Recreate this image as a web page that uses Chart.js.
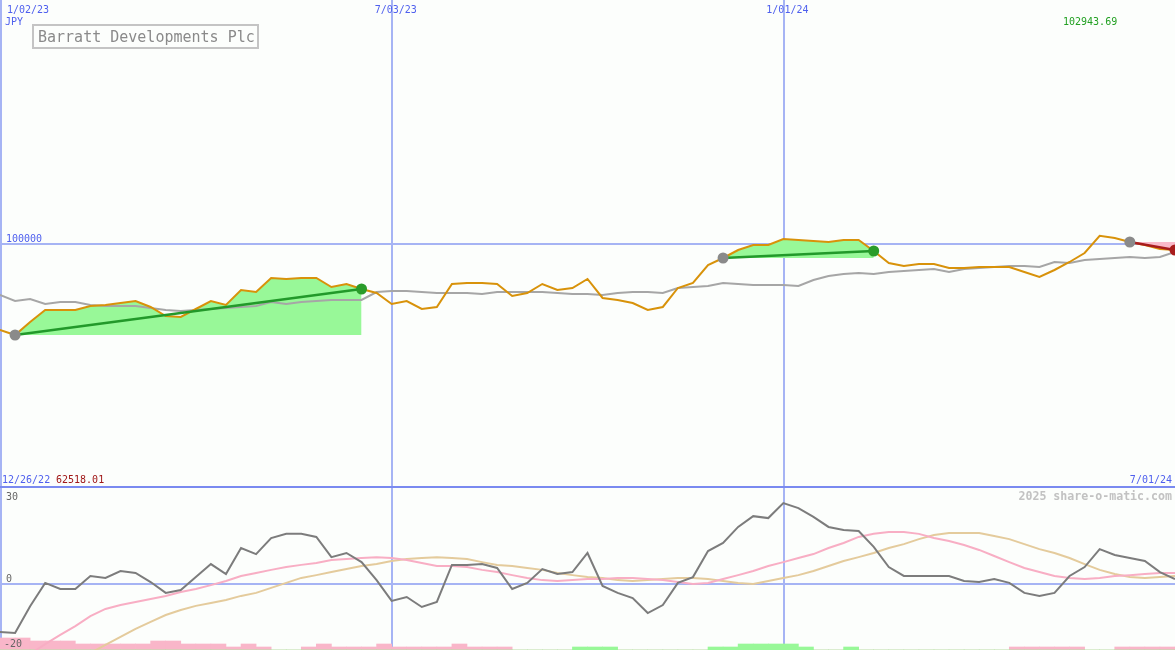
<!DOCTYPE html>
<html>
<head>
<meta charset="utf-8">
<script src="https://cdn.jsdelivr.net/npm/chart.js@4.4.1/dist/chart.umd.min.js"></script>
<style>
    html, body { margin: 0; padding: 0; background: #fcfefc; }
    #wrap { position: relative; width: 1175px; height: 650px; overflow: hidden; }
    #top { position: absolute; left: 0; top: 0; }
    #bot { position: absolute; left: 0; top: 486px; }
</style>
</head>
<body>
<div id="wrap">
    <canvas id="top" width="1175" height="486"></canvas>
    <canvas id="bot" width="1175" height="164"></canvas>
</div>
<script>
// weekly closes, 12/26/22 .. 7/01/24
const weeks = ['12/26/22',
    '1/02/23', '1/09/23', '1/16/23', '1/23/23', '1/30/23', '2/06/23', '2/13/23', '2/20/23', '2/27/23',
    '3/06/23', '3/13/23', '3/20/23', '3/27/23', '4/03/23', '4/10/23', '4/17/23', '4/24/23', '5/01/23',
    '5/08/23', '5/15/23', '5/22/23', '5/29/23', '6/05/23', '6/12/23', '6/19/23', '6/26/23', '7/03/23',
    '7/10/23', '7/17/23', '7/24/23', '7/31/23', '8/07/23', '8/14/23', '8/21/23', '8/28/23', '9/04/23',
    '9/11/23', '9/18/23', '9/25/23', '10/02/23', '10/09/23', '10/16/23', '10/23/23', '10/30/23', '11/06/23',
    '11/13/23', '11/20/23', '11/27/23', '12/04/23', '12/11/23', '12/18/23', '12/25/23', '1/01/24', '1/08/24',
    '1/15/24', '1/22/24', '1/29/24', '2/05/24', '2/12/24', '2/19/24', '2/26/24', '3/04/24', '3/11/24',
    '3/18/24', '3/25/24', '4/01/24', '4/08/24', '4/15/24', '4/22/24', '4/29/24', '5/06/24', '5/13/24',
    '5/20/24', '5/27/24', '6/03/24', '6/10/24', '6/17/24', '6/24/24', '7/01/24'];

const price = [65780, 64560, 62518.01, 67820, 72710, 72710, 72710, 74340, 74740, 75560,
    76370, 73930, 70260, 69850, 73110, 76370, 74740, 80850, 80040, 85740,
    85340, 85740, 85740, 82080, 83300, 81260, 79630, 75150, 76370, 73110,
    73930, 83300, 83700, 83700, 83300, 78410, 79630, 83300, 80850, 81670,
    85340, 77600, 76780, 75560, 72710, 73930, 81670, 83700, 91040, 93890,
    97150, 99190, 99190, 101630, 101220, 100820, 100410, 101220, 101220, 96740,
    91850, 90630, 91450, 91450, 89820, 89820, 90220, 90220, 90220, 88190,
    86150, 89000, 92260, 95930, 102943.69, 102040, 100410, 99190, 97560, 97150];

const avg = [79630, 78820, 76370, 77190, 75150, 75970, 75970, 74740, 74340, 74340,
    74340, 73520, 72710, 72300, 72710, 73110, 73520, 73930, 74340, 75970,
    75150, 75970, 76370, 76780, 76780, 76780, 80040, 80450, 80450, 80040,
    79630, 79630, 79630, 79220, 80040, 80040, 80040, 80040, 79630, 79220,
    79220, 78820, 79630, 80040, 80040, 79630, 81670, 82080, 82480, 83700,
    83300, 82890, 82890, 82890, 82480, 84930, 86560, 87370, 87780, 87370,
    88190, 88590, 89000, 89410, 88190, 89410, 89820, 90220, 90630, 90630,
    90220, 92260, 91850, 93080, 93480, 93890, 94300, 93890, 94300, 96330];

const osc = [-17.0, -17.3, -17.7, -8.0, 0.4, -1.8, -1.8, 2.9, 2.2, 4.7,
    4.0, 0.7, -3.2, -2.2, 2.5, 7.2, 3.6, 13.0, 10.8, 16.6,
    18.1, 18.1, 17.0, 9.7, 11.2, 7.9, 1.4, -6.1, -4.7, -8.3,
    -6.5, 6.9, 6.9, 7.2, 5.8, -1.8, 0.4, 5.4, 3.6, 4.3,
    11.2, -0.7, -3.2, -5.1, -10.5, -7.6, 0.4, 2.5, 11.9, 14.8,
    20.6, 24.5, 23.8, 29.2, 27.4, 24.2, 20.6, 19.5, 19.1, 13.4,
    6.1, 2.9, 2.9, 2.9, 2.9, 1.1, 0.7, 1.8, 0.4, -3.2,
    -4.3, -3.2, 2.9, 6.1, 12.6, 10.5, 9.4, 8.3, 4.3, 1.8];

const oscFast = [-35.4, -31.8, -28.5, -25.3, -21.7, -18.4, -15.2, -11.6, -9.0, -7.6,
    -6.5, -5.4, -4.3, -2.9, -1.8, -0.4, 1.1, 2.9, 4.0, 5.1,
    6.1, 6.9, 7.6, 8.7, 9.0, 9.4, 9.7, 9.4, 8.7, 7.6,
    6.5, 6.5, 6.1, 5.1, 4.3, 3.2, 2.2, 1.4, 1.1, 1.4,
    1.8, 1.8, 2.2, 2.2, 1.8, 1.4, 0.7, 0.0, 0.4, 1.8,
    3.2, 4.7, 6.5, 7.9, 9.4, 10.8, 13.0, 14.8, 17.0, 18.1,
    18.8, 18.8, 18.1, 16.6, 15.5, 14.1, 12.3, 10.1, 7.9, 5.8,
    4.3, 2.9, 2.2, 1.8, 2.2, 2.9, 3.2, 3.6, 4.0, 4.0];

const oscSlow = [-45.8, -42.6, -39.7, -36.8, -33.9, -31.0, -28.2, -24.9, -22.0, -19.1,
    -16.2, -13.7, -11.2, -9.4, -7.9, -6.9, -5.8, -4.3, -3.2, -1.4,
    0.4, 2.2, 3.2, 4.3, 5.4, 6.5, 7.2, 8.3, 9.0, 9.4,
    9.7, 9.4, 9.0, 7.9, 6.9, 6.5, 5.8, 5.1, 4.0, 3.2,
    2.5, 2.2, 1.4, 1.1, 1.4, 1.8, 2.2, 2.2, 1.8, 1.1,
    0.4, 0.0, 1.1, 2.2, 3.2, 4.7, 6.5, 8.3, 9.7, 11.2,
    13.0, 14.4, 16.2, 17.7, 18.4, 18.4, 18.4, 17.3, 16.2, 14.4,
    12.6, 11.2, 9.4, 7.2, 5.1, 3.6, 2.5, 2.2, 2.5, 2.9];

// histogram strip at the bottom, one value per week (+ green, - pink)
const signal = [-4, -4, -4, -3, -3, -3, -2, -2, -2, -2,
    -2, -3, -3, -2, -2, -2, -1, -2, -1, 0,
    0, -1, -2, -1, -1, -1, -2, -1, -1, -1,
    -1, -2, -1, -1, -1, 0, 0, 0, 0, 1,
    1, 1, 0, 0, 0, 0, 0, 0, 1, 1,
    2, 2, 2, 2, 1, 0, 0, 1, 0, 0,
    0, 0, 0, 0, 0, 0, 0, 0, -1, -1,
    -1, -1, -1, 0, 0, -1, -1, -1, -1, -1];

// [entry week, exit week]
const trades = [[2, 25], [49, 59], [76, 79]];

const dateTicks = [1, 27, 53];
const priceLines = [100000];
const oscTicks = [30, 0, -20];
const priceHigh = '102943.69';
const priceLow = '62518.01';
const title = 'Barratt Developments Plc';

const mono = '"DejaVu Sans Mono", "Liberation Mono", monospace';
const gridColor = '#a6b4f4';
const sepColor = '#7a8af0';
const dateColor = '#4f60ee';

const pts = (arr, from, to) => arr.slice(from, to + 1).map((v, k) => ({ x: from + k, y: v }));

const xScale = { type: 'linear', display: false, min: 1, max: 79, offset: false, ticks: { stepSize: 1 } };

// ---- price panel ----
const topSets = [];
trades.forEach(([a, b]) => {
    const win = price[b] >= price[a];
    topSets.push({
        data: pts(price, a, b), borderWidth: 0, pointRadius: 0,
        backgroundColor: win ? '#98f898' : '#f9b9c9',
        fill: { value: price[a] }, order: 9
    });
});
topSets.push({ data: pts(avg, 0, 79), borderColor: '#a6a6a6', borderWidth: 2, pointRadius: 0, order: 6 });
topSets.push({ data: pts(price, 0, 79), borderColor: '#d8920a', borderWidth: 2, pointRadius: 0, order: 5 });
trades.forEach(([a, b]) => {
    const win = price[b] >= price[a];
    topSets.push({
        data: [{ x: a, y: price[a] }, { x: b, y: price[b] }],
        borderColor: win ? '#22992a' : '#a81c1c', borderWidth: 2.5, pointRadius: 0, order: 4
    });
});
topSets.push({
    data: trades.map(([a]) => ({ x: a, y: price[a] })), showLine: false,
    pointRadius: 5.5, pointBorderWidth: 0, pointBackgroundColor: '#8a8a8a', order: 3
});
topSets.push({
    data: trades.map(([a, b]) => ({ x: b, y: price[b] })), showLine: false,
    pointRadius: 5.5, pointBorderWidth: 0,
    pointBackgroundColor: trades.map(([a, b]) => price[b] >= price[a] ? '#2a9c2a' : '#a81c1c'), order: 2
});

const decorTop = {
    id: 'decorTop',
    beforeDatasetsDraw(chart) {
        const { ctx, width, height } = chart;
        const { x, y } = chart.scales;
        ctx.save();
        ctx.fillStyle = gridColor;
        dateTicks.forEach(i => ctx.fillRect(Math.floor(x.getPixelForValue(i)), 0, 2, height));
        priceLines.forEach(v => ctx.fillRect(0, Math.round(y.getPixelForValue(v)), width, 2));
        ctx.restore();
    },
    afterDatasetsDraw(chart) {
        const { ctx, width, height } = chart;
        const { x, y } = chart.scales;
        ctx.save();
        ctx.font = '10px ' + mono;
        ctx.textBaseline = 'alphabetic';
        ctx.fillStyle = dateColor;
        dateTicks.forEach(i => ctx.fillText(weeks[i], Math.max(7, x.getPixelForValue(i) - 17), 12.5));
        ctx.fillText('JPY', 5, 24.5);
        priceLines.forEach(v => ctx.fillText(String(v), 6, y.getPixelForValue(v) - 1.5));
        ctx.fillText(weeks[0], 2, height - 3.5);
        ctx.textAlign = 'right';
        ctx.fillText(weeks[weeks.length - 1], width - 3, height - 3.5);
        ctx.textAlign = 'left';
        ctx.fillStyle = '#a01818';
        ctx.fillText(priceLow, 56, height - 3.5);
        ctx.fillStyle = '#22a022';
        ctx.fillText(priceHigh, 1063, 25);
        // title box
        ctx.fillStyle = '#fcfefc';
        ctx.fillRect(33, 25, 225, 23);
        ctx.strokeStyle = '#c4c4c4';
        ctx.lineWidth = 2;
        ctx.strokeRect(33, 25, 225, 23);
        ctx.fillStyle = '#8a8a8a';
        ctx.font = '15px ' + mono;
        ctx.fillText(title, 38, 41.5);
        ctx.restore();
    }
};

new Chart(document.getElementById('top'), {
    type: 'line',
    data: { datasets: topSets },
    options: {
        responsive: false, animation: false, events: [],
        layout: { padding: 0, autoPadding: false },
        elements: { line: { tension: 0 } },
        scales: { x: xScale, y: { display: false, min: 1000, max: 199000 } },
        plugins: { legend: { display: false }, tooltip: { enabled: false } }
    },
    plugins: [decorTop]
});

// ---- oscillator panel ----
const decorBot = {
    id: 'decorBot',
    beforeDatasetsDraw(chart) {
        const { ctx, width, height } = chart;
        const { x, y } = chart.scales;
        ctx.save();
        ctx.fillStyle = gridColor;
        dateTicks.forEach(i => ctx.fillRect(Math.floor(x.getPixelForValue(i)), 0, 2, height));
        ctx.fillRect(0, Math.round(y.getPixelForValue(0)) - 1, width, 2);
        ctx.fillStyle = sepColor;
        ctx.fillRect(0, 0, width, 2);
        ctx.restore();
    },
    afterDatasetsDraw(chart) {
        const { ctx, width, height } = chart;
        const { y } = chart.scales;
        ctx.save();
        ctx.font = '10px ' + mono;
        ctx.fillStyle = '#666666';
        const low = Math.min(...oscTicks);
        oscTicks.forEach(v => {
            const ty = v === low ? height - 3.5 : Math.max(13.5, y.getPixelForValue(v) - 2);
            ctx.fillText(String(v), v < 0 ? 4 : 6, ty);
        });
        ctx.font = 'bold 11.6px ' + mono;
        ctx.fillStyle = '#c2c2c2';
        ctx.textAlign = 'right';
        ctx.fillText('2025 share-o-matic.com', width - 3, 14);
        ctx.restore();
    }
};

const barPts = sign => signal.map((v, i) => ({ x: i + 0.5, y: Math.sign(v) === sign ? Math.abs(v) : 0 }));

new Chart(document.getElementById('bot'), {
    type: 'line',
    data: {
        datasets: [
            { type: 'bar', data: barPts(1), yAxisID: 'yBar', backgroundColor: '#98f898', borderWidth: 0,
              barPercentage: 1, categoryPercentage: 1, grouped: false, order: 9 },
            { type: 'bar', data: barPts(-1), yAxisID: 'yBar', backgroundColor: '#f9b6c9', borderWidth: 0,
              barPercentage: 1, categoryPercentage: 1, grouped: false, order: 9 },
            { data: pts(oscSlow, 0, 79), borderColor: '#e4cb9c', borderWidth: 2, pointRadius: 0, order: 4 },
            { data: pts(oscFast, 0, 79), borderColor: '#f8aec4', borderWidth: 2, pointRadius: 0, order: 3 },
            { data: pts(osc, 0, 79), borderColor: '#7c7c7c', borderWidth: 2, pointRadius: 0, order: 2 }
        ]
    },
    options: {
        responsive: false, animation: false, events: [],
        layout: { padding: 0, autoPadding: false },
        elements: { line: { tension: 0 } },
        scales: {
            x: xScale,
            y: { display: false, min: -23.83, max: 35.38 },
            yBar: { display: false, min: 0, max: 164 / 3 }
        },
        plugins: { legend: { display: false }, tooltip: { enabled: false } }
    },
    plugins: [decorBot]
});
</script>
</body>
</html>
